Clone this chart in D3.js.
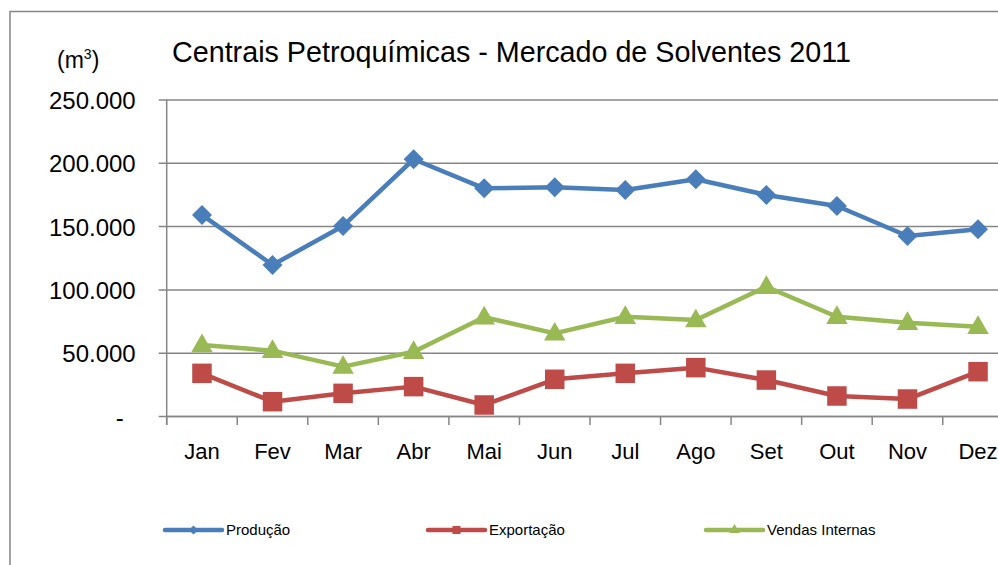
<!DOCTYPE html>
<html>
<head>
<meta charset="utf-8">
<script src="https://cdn.jsdelivr.net/npm/d3@7"></script>
<style>
  body { margin: 0; background: #fff; }
  svg { display: block; font-family: "Liberation Sans", Arial, sans-serif; }
</style>
</head>
<body>
<svg id="chart" width="998" height="565"></svg>
<script>
// chart values
var months = ["Jan", "Fev", "Mar", "Abr", "Mai", "Jun", "Jul", "Ago", "Set", "Out", "Nov", "Dez"];
var producao = [158800, 119300, 150100, 202800, 179800, 180600, 178500, 187000, 174600, 165900, 142200, 147500];
var exportacao = [33700, 11300, 17900, 23200, 8700, 29000, 33700, 38200, 28400, 15800, 13400, 35000];
var vendasInternas = [56100, 51600, 39000, 50800, 78000, 65300, 78400, 75800, 102100, 78400, 73700, 70500];
var yTicks = [0, 50000, 100000, 150000, 200000, 250000];
var seriesNames = ["Produção", "Exportação", "Vendas Internas"];

var colors = ["#4A7EBB", "#BE4B48", "#98B954"];
var markers = ["diamond", "square", "triangle"];
var series = [producao, exportacao, vendasInternas];

var svg = d3.select("#chart");
var gray = "#868686";

// outer chart frame (runs off the right and bottom)
svg.append("rect")
  .attr("x", 10).attr("y", 11.5)
  .attr("width", 1010).attr("height", 580)
  .attr("fill", "none").attr("stroke", gray).attr("stroke-width", 1.5);

var plotLeft = 166.7, plotRight = 1013.3, plotTop = 99.5, plotBottom = 416;

var x = d3.scaleBand().domain(months).range([plotLeft, plotRight]);
var y = d3.scaleLinear().domain([0, 250000]).range([plotBottom, plotTop]);

var ptBR = d3.formatLocale({decimal: ",", thousands: ".", grouping: [3], currency: ["", ""]});
var fmt = ptBR.format(",");

// gridlines + y axis
var yAxis = svg.append("g")
  .attr("transform", "translate(" + plotLeft + ",0)")
  .call(d3.axisLeft(y).tickValues(yTicks).tickSize(8)
    .tickFormat(function(d){ return d === 0 ? "-" : fmt(d); }));
yAxis.select(".domain").remove();
yAxis.selectAll(".tick line").attr("stroke", gray).attr("stroke-width", 1.5)
  .attr("x2", plotRight - plotLeft).attr("x1", -8);
yAxis.selectAll(".tick text")
  .attr("font-size", 24).attr("fill", "#000")
  .attr("font-family", "'Liberation Sans', Arial, sans-serif")
  .attr("x", function(d){ return d === 0 ? -43 : -31; })
  .attr("dy", "0.38em");

// y axis line
svg.append("line")
  .attr("x1", plotLeft).attr("x2", plotLeft).attr("y1", plotTop).attr("y2", plotBottom + 9)
  .attr("stroke", gray).attr("stroke-width", 1.5);

// x axis
var xAxis = svg.append("g")
  .attr("transform", "translate(0," + plotBottom + ")")
  .call(d3.axisBottom(x).tickSize(0).tickPadding(27));
xAxis.select(".domain").attr("stroke", gray).attr("stroke-width", 1.5);
xAxis.selectAll(".tick text")
  .attr("font-size", 22).attr("fill", "#000")
  .attr("font-family", "'Liberation Sans', Arial, sans-serif");

// category boundary ticks
svg.append("g").selectAll("line")
  .data(d3.range(months.length + 1))
  .join("line")
  .attr("x1", function(k){ return plotLeft + k * x.step(); })
  .attr("x2", function(k){ return plotLeft + k * x.step(); })
  .attr("y1", plotBottom).attr("y2", plotBottom + 9)
  .attr("stroke", gray).attr("stroke-width", 1.5);

function symbolFor(kind, big) {
  if (kind === "diamond") return d3.symbol(d3.symbolSquare, big ? 200 : 42)();
  if (kind === "square") return d3.symbol(d3.symbolSquare, big ? 380 : 64)();
  return d3.symbol(d3.symbolTriangle, big ? 200 : 48)();
}

var line = d3.line()
  .x(function(d, i){ return x(months[i]) + x.bandwidth() / 2; })
  .y(function(d){ return y(d); });

series.forEach(function(values, s){
  svg.append("path")
    .datum(values)
    .attr("d", line)
    .attr("fill", "none")
    .attr("stroke", colors[s])
    .attr("stroke-width", 4.5)
    .attr("stroke-linejoin", "round");

  svg.append("g").selectAll("path")
    .data(values)
    .join("path")
    .attr("d", symbolFor(markers[s], true))
    .attr("fill", colors[s])
    .attr("transform", function(d, i){
      var t = "translate(" + (x(months[i]) + x.bandwidth() / 2) + "," + y(d) + ")";
      if (markers[s] === "diamond") t += " rotate(45)";
      if (markers[s] === "triangle") t += " translate(0,1)";
      return t;
    });
});

// title and unit
svg.append("text")
  .attr("x", 172).attr("y", 62)
  .attr("font-size", 30)
  .attr("textLength", 679).attr("lengthAdjust", "spacingAndGlyphs")
  .text("Centrais Petroquímicas - Mercado de Solventes 2011");

var unit = svg.append("text").attr("x", 57).attr("y", 68).attr("font-size", 23);
unit.append("tspan").text("(m");
unit.append("tspan").attr("font-size", 14).attr("dy", -9).text("3");
unit.append("tspan").attr("dy", 9).text(")");

// legend
var legendX = [165, 428, 706];
var leg = svg.append("g").selectAll("g")
  .data(seriesNames)
  .join("g")
  .attr("transform", function(d, i){ return "translate(" + legendX[i] + ",530)"; });

leg.append("line")
  .attr("x1", 0).attr("x2", 57).attr("y1", 0).attr("y2", 0)
  .attr("stroke", function(d, i){ return colors[i]; })
  .attr("stroke-width", 4.5).attr("stroke-linecap", "round");

leg.append("path")
  .attr("d", function(d, i){ return symbolFor(markers[i], false); })
  .attr("fill", function(d, i){ return colors[i]; })
  .attr("transform", function(d, i){
    return "translate(28.5,0)" + (markers[i] === "diamond" ? " rotate(45)" : "");
  });

leg.append("text")
  .attr("x", 61).attr("y", 5)
  .attr("font-size", 15)
  .text(function(d){ return d; });
</script>
</body>
</html>
